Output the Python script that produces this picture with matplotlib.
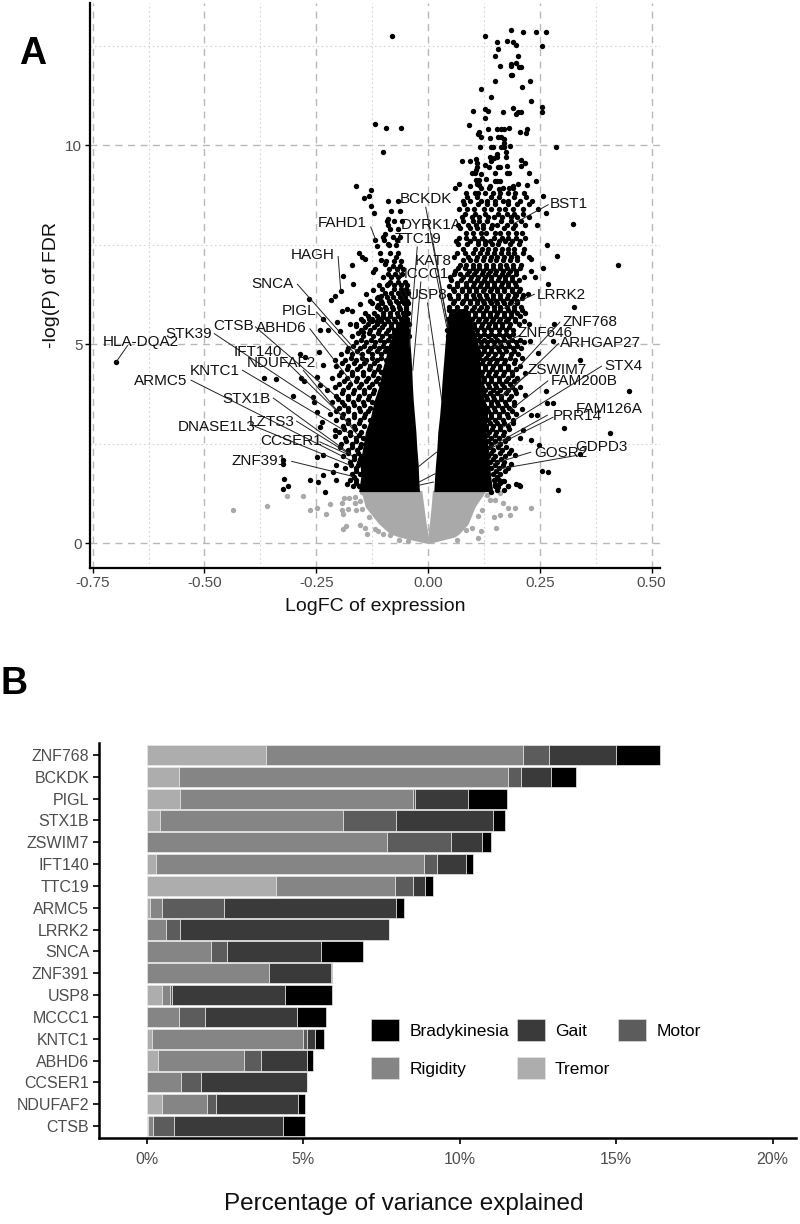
# -*- coding: utf-8 -*-
import matplotlib
matplotlib.use('Agg')
import matplotlib.pyplot as plt
from matplotlib.patches import Patch

plt.rcParams['font.family'] = ['Liberation Sans', 'DejaVu Sans']

# ---- panel A, points
top_x = [-.080,.127,.185,.213,.242,.265,.177,.154,.190,.197,.255,.156,.151,.201,.160,.186,.196,.186,.203,.208,.185,.189,.151,.229,.210,.119,.141,.231,.101,.128,.135,.167,.191,.254,.256,.196,.201,.209,.127,-.119,-.094,-.060,.091,.134,.154,.163,.169,.182,.221,.206,.219,.115,.113,.119,.139,.156,.163,.169,.171,.116,.145,.141,.164,.171,.183,.286,-.101,.174,.154,.174,.138,.154,.147,.142,.075,.095,.107,.109,.208,.218,.209,.128,.136,.157,.161,.177,.110,.107,.098,.105,.119,.149,.176,.182,.226,.130,.107,.115,.110,.149,.155,.160,.242,.069,.094,.114,.138,.201,.221,.191,.182,.158,.060]
top_y = [12.76,12.76,12.91,12.86,12.86,12.86,12.63,12.59,12.59,12.53,12.51,12.42,12.25,12.26,11.99,12.05,12.07,11.99,11.98,11.98,11.78,11.78,11.62,11.62,11.48,11.41,11.23,11.12,10.87,10.92,10.87,10.84,10.95,10.96,10.84,10.79,10.84,10.84,10.70,10.54,10.43,10.43,10.52,10.41,10.41,10.42,10.41,10.43,10.41,10.34,10.32,10.34,10.29,10.21,10.18,10.20,10.21,10.16,10.07,9.95,9.97,9.95,9.97,9.97,9.98,9.95,9.83,9.83,9.79,9.71,9.70,9.71,9.69,9.61,9.61,9.62,9.66,9.56,9.63,9.57,9.48,9.50,9.45,9.47,9.47,9.49,9.46,9.39,9.32,9.32,9.27,9.32,9.30,9.30,9.30,9.15,9.12,9.14,9.04,9.11,9.11,9.10,9.11,9.03,8.98,9.01,8.98,9.04,9.01,8.97,8.93,8.90,8.92]

left_x = [-.160,-.128,-.143,-.131,-.128,-.120,-.089,-.089,-.096,-.119,-.098,-.113,-.089,-.154,-.148,-.141,-.104,-.096,-.169,-.123,-.191,-.167,-.089,-.195,-.124,-.208,-.216,-.266,-.138,-.152,-.115,-.104,-.182,-.193,-.171,-.234,-.204,-.174,-.160,-.242,-.223,-.197,-.145,-.133,-.115,-.100,-.111,-.698,-.286,-.275,-.244,-.234,-.208,-.367,-.341,-.283,-.277,-.242,-.249,-.301,-.258,-.256,-.249,-.238,-.242,-.208,-.208,-.197,-.249,-.234,-.206,-.324,-.324,-.212,-.234,-.322,-.312,-.324,-.264,-.247,-.230,-.206,-.182]
left_y = [8.98,8.89,8.69,8.73,8.49,8.31,8.16,7.99,7.78,7.63,7.63,7.48,7.53,7.30,7.19,7.14,7.11,7.03,7.00,6.82,6.73,6.51,6.52,6.34,6.36,6.22,6.11,6.13,6.27,6.02,6.17,6.21,5.90,5.84,5.85,5.64,5.56,5.52,5.45,5.35,5.37,5.33,5.32,5.63,5.60,5.69,5.98,4.55,4.77,4.68,4.81,4.47,4.60,4.15,4.12,4.16,4.08,3.97,4.18,3.70,3.68,3.55,3.30,3.05,2.92,2.84,2.71,2.42,2.17,2.21,1.96,2.00,2.09,1.79,1.71,1.62,1.43,1.37,1.58,1.54,1.29,1.58,1.50]

right_x = [.324,.426,.288,.267,.258,.263,.243,.230,.258,.230,.240,.269,.327,.224,.195,.282,.280,.228,.247,.202,.340,.216,.450,.264,.217,.267,.280,.210,.230,.243,.304,.407,.213,.206,.230,.249,.340,.195,.186,.254,.268,.290,.169,.180,.204,.142,.154,.167,.150,.157,.180,.198,.206,.169]
right_y = [8.02,6.99,7.22,7.50,8.74,8.31,7.99,7.15,6.92,6.84,6.69,6.52,5.94,6.26,6.27,5.50,5.08,5.08,4.79,4.77,4.60,4.29,3.84,3.84,3.72,3.53,3.53,3.37,3.22,3.22,2.90,2.78,2.86,2.65,2.59,2.46,2.25,2.21,2.00,1.82,1.79,1.33,1.57,1.43,1.46,1.29,1.33,1.56,1.50,1.42,1.44,1.50,1.44,1.33]

# crowded parts, estimated row by row
right_rows_y = [8.8,8.6,8.4,8.2,8.0,7.8,7.6,7.4,7.2,7.0,6.85,6.7,6.55,6.4,6.25,6.1,5.95,5.8,5.65,5.5,5.35,5.2,5.05,4.9,4.75,4.6,4.45,4.3,4.15,4.0,3.85,3.7,3.55,3.4,3.25,3.1,2.95,2.8,2.65,2.5,2.35,2.2,2.05,1.9,1.75,1.6,1.45]
right_rows_x = [
    [.085,.105,.112,.128,.145,.160,.178,.195,.215],
    [.078,.095,.118,.133,.150,.168,.180,.205,.232],
    [.070,.088,.102,.125,.140,.158,.172,.190,.212,.245],
    [.075,.098,.115,.135,.148,.165,.185,.200,.225],
    [.068,.090,.108,.122,.143,.155,.176,.194,.218],
    [.085,.100,.118,.130,.150,.162,.180,.198,.210],
    [.062,.095,.112,.128,.138,.158,.172,.188,.205],
    [.078,.105,.120,.135,.150,.165,.178,.192,.215],
    [.058,.090,.110,.125,.140,.155,.170,.185,.200,.225],
    [.072,.085,.100,.115,.130,.145,.160,.175,.190,.208],
    [.060,.092,.108,.122,.138,.152,.168,.183,.198],
    [.050,.078,.096,.112,.128,.142,.158,.172,.188,.215],
    [.065,.085,.102,.118,.132,.148,.165,.180,.195],
    [.055,.075,.092,.108,.125,.140,.155,.170,.188,.205],
    [.048,.068,.085,.100,.115,.130,.146,.162,.178,.196,.212],
    [.058,.078,.094,.110,.124,.138,.152,.168,.185,.200],
    [.048,.066,.084,.102,.118,.132,.148,.162,.176,.192,.208],
    [.056,.074,.090,.106,.122,.138,.155,.170,.185,.200,.218],
    [.045,.065,.082,.098,.114,.130,.146,.160,.178,.195],
    [.050,.070,.086,.104,.120,.136,.150,.166,.184,.204,.225],
    [.042,.060,.078,.094,.110,.126,.142,.158,.174,.190],
    [.045,.068,.088,.102,.116,.134,.150,.168,.182],
    [.105,.118,.132,.148,.162,.180,.198,.215],
    [.110,.125,.140,.156,.172,.190,.208],
    [.104,.118,.134,.150,.165,.185],
    [.108,.122,.138,.155,.172,.195],
    [.112,.128,.145,.162,.180,.205],
    [.105,.120,.136,.152,.170,.188],
    [.110,.126,.142,.158,.178,.200],
    [.108,.118,.134,.150,.166,.184],
    [.112,.128,.145,.160,.178,.195],
    [.115,.130,.146,.164,.185],
    [.110,.124,.140,.155,.172,.192],
    [.118,.132,.148,.165,.182],
    [.115,.128,.142,.158,.176,.198],
    [.120,.134,.150,.168,.190],
    [.118,.130,.146,.162,.180],
    [.122,.136,.152,.170],
    [.125,.140,.158,.178],
    [.128,.142,.160],
    [.130,.146,.165,.185],
    [.135,.150,.172],
    [.138,.155,.170],
    [.140,.158,.178],
    [.145,.162],
    [.148,.158],
    [.150],
]
# second pass over the same region, between the rows above
right_rows2_y = [8.93,8.71,8.52,8.28,8.11,7.93,7.68,7.52,7.29,7.11,6.93,6.77,6.62,6.47,6.33,6.17,6.03,5.87,5.72,5.58,5.43,5.27,5.12,4.97,4.83,4.67,4.52,4.38,4.22,4.07,3.92,3.78,3.62,3.47,3.32,3.17,3.02,2.87,2.72,2.57,2.42,2.27,2.12,1.97,1.82,1.67,1.52]
right_rows2_x = [
    [.118,.137,.168,.190],
    [.088,.110,.141,.159,.192,.219],
    [.080,.113,.131,.151,.180,.200,.226],
    [.083,.106,.127,.157,.176,.192,.213],
    [.079,.100,.115,.133,.164,.186,.207],
    [.072,.093,.110,.124,.141,.171,.190],
    [.070,.086,.103,.120,.147,.165,.180,.197,.218],
    [.067,.088,.112,.128,.143,.157,.184,.204],
    [.066,.082,.100,.117,.133,.148,.163,.178,.193,.212],
    [.079,.093,.108,.122,.138,.153,.168,.183,.199],
    [.067,.083,.100,.115,.130,.145,.160,.176,.191,.206],
    [.058,.072,.087,.104,.120,.135,.150,.165,.180,.196],
    [.052,.073,.093,.110,.125,.140,.157,.172,.188,.203],
    [.047,.065,.084,.100,.116,.132,.147,.163,.179,.196],
    [.058,.076,.092,.108,.122,.138,.154,.170,.187,.204],
    [.050,.068,.086,.102,.117,.131,.145,.160,.176,.192,.210],
    [.056,.075,.093,.110,.125,.140,.155,.169,.184,.200],
    [.048,.065,.082,.098,.114,.130,.147,.162,.178,.192,.210],
    [.054,.073,.090,.106,.122,.138,.153,.169,.186,.205],
    [.060,.078,.095,.112,.128,.143,.158,.175,.194,.214],
    [.068,.086,.102,.118,.134,.150,.166,.182],
    [.095,.110,.125,.142,.159,.175,.191],
    [.112,.125,.140,.155,.171,.189,.206],
    [.118,.133,.148,.164,.181,.199],
    [.112,.126,.142,.158,.175,.193],
    [.115,.130,.146,.163,.183,.210],
    [.120,.136,.153,.171,.192],
    [.113,.128,.144,.161,.179,.198],
    [.118,.134,.150,.168,.189],
    [.113,.126,.142,.158,.175,.193],
    [.120,.136,.152,.169,.187,.206],
    [.123,.138,.155,.174,.196],
    [.118,.132,.147,.164,.182],
    [.125,.140,.157,.174,.193],
    [.122,.135,.150,.167,.187],
    [.127,.142,.159,.179],
    [.125,.138,.154,.171,.191],
    [.129,.144,.161,.181],
    [.132,.149,.168],
    [.135,.151,.172],
    [.138,.156,.175],
    [.142,.161,.181],
    [.146,.163],
    [.149,.168],
    [.152,.172],
    [.155],
    [.160],
]
left_rows_y = [8.6,8.35,8.1,7.9,7.7,7.5,7.3,7.1,6.9,6.7,6.5,6.3,6.1,5.95,5.8,5.65,5.5,5.35,5.2,5.05,4.9,4.75,4.6,4.45,4.3,4.15,4.0,3.85,3.7,3.55,3.4,3.25,3.1,2.95,2.8,2.65,2.5,2.35,2.2,2.05,1.9,1.75,1.6,1.45]
left_rows_x = [
    [-.090,-.066],
    [-.082,-.063],
    [-.092,-.075,-.058],
    [-.085,-.068],
    [-.100,-.078,-.062],
    [-.088,-.072],
    [-.108,-.084,-.066],
    [-.095,-.076,-.060],
    [-.118,-.088,-.070,-.056],
    [-.100,-.082,-.066],
    [-.110,-.092,-.075,-.060,-.046],
    [-.096,-.082,-.068,-.055,-.044],
    [-.130,-.105,-.088,-.072,-.058,-.048],
    [-.115,-.096,-.080,-.064,-.050],
    [-.140,-.120,-.100,-.086,-.070,-.056,-.045],
    [-.150,-.125,-.108,-.092,-.076,-.060,-.048],
    [-.160,-.135,-.115,-.098,-.082,-.066,-.052,-.042],
    [-.150,-.130,-.110,-.090,-.075,-.060,-.046],
    [-.170,-.145,-.122,-.102,-.085,-.068,-.052,-.042],
    [-.160,-.138,-.118,-.098,-.080,-.062,-.046],
    [-.180,-.152,-.130,-.110,-.092,-.074],
    [-.195,-.170,-.148,-.125,-.105,-.088],
    [-.185,-.160,-.138,-.115,-.095],
    [-.205,-.178,-.152,-.130,-.110],
    [-.195,-.170,-.145,-.120,-.105],
    [-.215,-.182,-.158,-.135,-.112],
    [-.200,-.175,-.150,-.125,-.108],
    [-.225,-.190,-.165,-.142,-.120],
    [-.205,-.180,-.155,-.132],
    [-.215,-.192,-.168,-.145,-.125],
    [-.200,-.178,-.155,-.130],
    [-.220,-.190,-.165,-.140],
    [-.205,-.178,-.152,-.130],
    [-.190,-.165,-.142],
    [-.200,-.175,-.150],
    [-.185,-.162,-.145],
    [-.195,-.170,-.150],
    [-.180,-.158],
    [-.190,-.165,-.150],
    [-.175,-.155],
    [-.185,-.160],
    [-.170,-.152],
    [-.175,-.160],
    [-.168,-.155],
]
left_rows2_y = [7.62,7.2,6.97,6.78,6.58,6.38,6.2,6.03,5.88,5.72,5.58,5.43,5.28,5.12,4.97,4.83,4.67,4.52,4.38,4.22,4.07,3.92,3.78,3.62,3.47,3.32,3.17,3.02,2.87,2.72,2.57,2.42,2.27,2.12,1.97,1.82,1.67,1.52]
left_rows2_x = [
    [-.070],
    [-.071],
    [-.078,-.062],
    [-.090,-.074,-.058],
    [-.084,-.068,-.052],
    [-.103,-.075,-.061,-.049],
    [-.112,-.092,-.078,-.063,-.052],
    [-.125,-.102,-.084,-.068,-.054,-.045],
    [-.108,-.094,-.078,-.063,-.050],
    [-.134,-.115,-.100,-.084,-.068,-.053],
    [-.145,-.125,-.106,-.090,-.074,-.058,-.046],
    [-.140,-.120,-.102,-.083,-.068,-.053],
    [-.157,-.133,-.112,-.094,-.077,-.060,-.047],
    [-.150,-.128,-.108,-.090,-.072,-.055],
    [-.168,-.142,-.120,-.101,-.083],
    [-.182,-.158,-.135,-.115,-.097],
    [-.172,-.148,-.126,-.106],
    [-.192,-.165,-.142,-.120],
    [-.182,-.158,-.133,-.112],
    [-.200,-.170,-.146,-.124],
    [-.188,-.162,-.138,-.116],
    [-.208,-.178,-.154,-.131],
    [-.192,-.168,-.144,-.124],
    [-.202,-.180,-.157,-.135],
    [-.188,-.166,-.143],
    [-.205,-.178,-.153,-.134],
    [-.192,-.166,-.142],
    [-.178,-.154],
    [-.188,-.163],
    [-.174,-.154],
    [-.183,-.160],
    [-.170,-.152],
    [-.178,-.157],
    [-.165,-.152],
    [-.173,-.156],
    [-.160],
    [-.166],
    [-.160],
]

# solid black core: too many points to tell apart, so kept as its outline
core_y = [1.3,1.7,2.0,2.4,2.8,3.2,3.6,4.0,4.3,4.7,5.0,5.5,5.9]
core_left_outer = [-.155,-.150,-.152,-.146,-.140,-.128,-.120,-.108,-.104,-.094,-.088,-.068,-.052]
core_left_inner = [-.019,-.021,-.022,-.025,-.027,-.030,-.033,-.035,-.036,-.038,-.040,-.043,-.046]
core_right_inner = [.013,.015,.017,.020,.022,.026,.029,.031,.033,.036,.038,.042,.048]
core_right_outer = [.145,.140,.138,.134,.130,.130,.126,.120,.118,.114,.112,.100,.085]

# same for the grey part under the FDR cut
ns_y = [0,.16,.24,.49,.91,1.33]
ns_left_outer = [-.003,-.065,-.085,-.110,-.140,-.150]
ns_left_inner = [0,0,0,-.004,-.009,-.014]
ns_right_inner = [0,0,0,.003,.007,.010]
ns_right_outer = [.003,.060,.070,.090,.105,.130]

ns_x = [-.437,-.360,-.316,-.280,-.264,-.248,-.227,-.219,-.193,-.187,-.176,-.163,-.147,-.193,-.189,-.178,-.160,-.163,-.152,-.147,-.184,-.189,-.152,-.141,-.137,-.133,-.119,-.111,-.100,-.085,-.065,-.044,.113,.119,.098,.085,.064,.152,.148,.161,.113,.120,.139,.150,.167,.180,.195,.183,.230,.131,.161,.101]
ns_y_pts = [.85,.94,1.19,1.19,.85,.89,.74,.98,1.02,1.15,1.15,1.16,1.29,.83,.73,.87,.85,1.02,1.06,.87,.43,.37,.47,.39,.24,.66,.37,.31,.24,.20,.09,.05,.14,.30,.39,.33,.09,.39,.66,.70,.68,.83,1.08,1.08,1.01,.89,.89,.70,.89,1.21,1.27,1.00]

gene_names = ['HLA-DQA2','FAHD1','HAGH','SNCA','PIGL','ABHD6','CTSB','STK39','IFT140','NDUFAF2','KNTC1','ARMC5','STX1B','LZTS3','DNASE1L3','CCSER1','ZNF391','BCKDK','DYRK1A','TTC19','KAT8','MCCC1','USP8','BST1','LRRK2','ZNF768','ZNF646','ARHGAP27','ZSWIM7','FAM200B','STX4','FAM126A','PRR14','GOSR2','GDPD3']
gene_x = [-.642,-.192,-.258,-.348,-.289,-.327,-.434,-.536,-.380,-.327,-.478,-.597,-.406,-.350,-.473,-.307,-.377,-.005,.008,-.023,.012,-.014,-.001,.315,.299,.362,.263,.386,.289,.349,.437,.405,.333,.298,.388]
gene_y = [5.06,8.06,7.25,6.52,5.85,5.41,5.46,5.25,4.81,4.53,4.33,4.08,3.63,3.05,2.92,2.56,2.06,8.66,7.99,7.65,7.09,6.78,6.23,8.52,6.23,5.56,5.28,5.04,4.35,4.08,4.45,3.37,3.20,2.27,2.42]
seg_x0 = [-.672,-.128,-.201,-.292,-.249,-.264,-.386,-.478,-.327,-.279,-.415,-.530,-.346,-.294,-.387,-.242,-.305,-.005,.008,-.024,.016,-.016,-.001,.269,.238,.295,.206,.292,.224,.268,.388,.267,.280,.230,.333]
seg_y0 = [4.97,7.95,7.21,6.51,5.81,5.39,5.44,5.27,4.68,4.35,4.35,4.10,3.65,3.07,2.94,2.55,2.06,8.45,7.78,7.45,6.90,6.57,6.04,8.51,6.26,5.56,5.23,5.02,4.26,4.08,4.45,3.22,3.17,2.29,2.21]
seg_x1 = [-.698,-.117,-.195,-.122,-.167,-.171,-.208,-.219,-.167,-.160,-.156,-.174,-.174,-.171,-.174,-.182,-.167,.045,.045,-.042,.042,-.034,.031,.191,.169,.176,.146,.176,.161,.183,.168,.139,.139,.146,.150]
seg_y1 = [4.55,7.63,6.34,4.35,4.81,4.05,3.72,3.34,2.92,2.76,2.63,2.09,2.25,2.21,1.96,2.25,1.68,5.44,5.44,4.93,5.44,4.35,3.59,8.03,5.90,4.10,4.93,3.76,3.68,3.34,2.92,2.42,2.38,2.00,1.85]
# short leaders crossing the gap round zero
gap_x0 = [-.022,-.020,-.020]
gap_y0 = [1.92,1.54,1.46]
gap_x1 = [.019,.016,.012]
gap_y1 = [2.29,1.75,1.54]

# ---- panel B
genes = ['ZNF768','BCKDK','PIGL','STX1B','ZSWIM7','IFT140','TTC19','ARMC5','LRRK2','SNCA','ZNF391','USP8','MCCC1','KNTC1','ABHD6','CCSER1','NDUFAF2','CTSB']
tremor = [3.83,1.05,1.08,.44,0,.29,4.15,.12,0,0,0,.50,0,.17,.38,0,.49,.05]
rigidity = [8.21,10.50,7.44,5.85,7.69,8.56,3.80,.38,.61,2.07,3.91,.26,1.03,4.84,2.73,1.11,1.44,.16]
motor = [.81,.42,.05,1.68,2.03,.44,.57,1.98,.47,.49,0,.04,.83,.10,.55,.63,.28,.67]
gait = [2.15,.95,1.69,3.11,1.00,.92,.38,5.49,6.67,3.02,1.97,3.61,2.96,.26,1.47,3.39,2.64,3.47]
brady = [1.40,.80,1.26,.38,.28,.23,.24,.27,0,1.34,.04,1.51,.90,.31,.19,0,.22,.72]
symptom_names = ['Tremor','Rigidity','Motor','Gait','Bradykinesia']
symptom_colors = ['#adadad','#858585','#5c5c5c','#3a3a3a','#000000']

W, H = 800.0, 1224.0
DOT = 15
fig = plt.figure(figsize=(8, 12.24), dpi=100)

# panel A
ax = fig.add_axes([90/W, 1-568/H, 570/W, 565/H])
ax.set_xlim(-.756, .519)
ax.set_ylim(-.62, 13.58)
ax.set_xticks([-.75,-.5,-.25,0,.25,.5])
ax.set_xticklabels(['-0.75','-0.50','-0.25','0.00','0.25','0.50'], fontsize=11, color='#4d4d4d')
ax.set_yticks([0,5,10])
ax.set_yticklabels(['0','5','10'], fontsize=11, color='#4d4d4d')
ax.set_xticks([-.625,-.375,-.125,.125,.375], minor=True)
ax.set_yticks([2.5,7.5,12.5], minor=True)
ax.grid(True, which='major', color='#b8b8b8', ls=(0, (5, 4)), lw=1)
ax.grid(True, which='minor', color='#d4d4d4', ls=(0, (1.5, 2.5)), lw=.8)
ax.tick_params(which='minor', length=0)
ax.tick_params(which='major', length=3.5, width=1, pad=2)
ax.set_axisbelow(True)
for s in ['top','right']:
    ax.spines[s].set_visible(False)
for s in ['left','bottom']:
    ax.spines[s].set_linewidth(1.6)

grey = '#a9a9a9'
ax.fill_betweenx(ns_y, ns_left_outer, ns_left_inner, color=grey, lw=0, zorder=2)
ax.fill_betweenx(ns_y, ns_right_inner, ns_right_outer, color=grey, lw=0, zorder=2)
ax.scatter(ns_x, ns_y_pts, s=DOT, c=grey, lw=0, zorder=2)

ax.fill_betweenx(core_y, core_left_outer, core_left_inner, color='k', lw=0, zorder=3)
ax.fill_betweenx(core_y, core_right_inner, core_right_outer, color='k', lw=0, zorder=3)
ax.scatter(top_x, top_y, s=DOT, c='k', lw=0, zorder=3)
ax.scatter(left_x, left_y, s=DOT, c='k', lw=0, zorder=3)
ax.scatter(right_x, right_y, s=DOT, c='k', lw=0, zorder=3)
for rows_y, rows_x in [(right_rows_y, right_rows_x), (right_rows2_y, right_rows2_x),
                       (left_rows_y, left_rows_x), (left_rows2_y, left_rows2_x)]:
    for y, xs in zip(rows_y, rows_x):
        ax.scatter(xs, [y]*len(xs), s=DOT, c='k', lw=0, zorder=3)

for i in range(len(gene_names)):
    ax.plot([seg_x0[i], seg_x1[i]], [seg_y0[i], seg_y1[i]], color='#222222', lw=.7, zorder=4)
    ax.text(gene_x[i], gene_y[i], gene_names[i], fontsize=11, ha='center', va='center', color='#111111', zorder=5)
for i in range(len(gap_x0)):
    ax.plot([gap_x0[i], gap_x1[i]], [gap_y0[i], gap_y1[i]], color='#222222', lw=.7, zorder=4)

ax.set_xlabel('LogFC of expression', fontsize=14, color='#111111', labelpad=6)
ax.set_ylabel('-log(P) of FDR', fontsize=14, color='#111111', labelpad=4)

# panel B
bx = fig.add_axes([99/W, 1-1138/H, 697/W, 395/H])
lefts = [0]*len(genes)
for vals, name, col in zip([tremor, rigidity, motor, gait, brady], symptom_names, symptom_colors):
    bx.barh(genes, vals, left=lefts, height=.93, color=col, edgecolor='#e8e8e8', lw=.5)
    lefts = [a + b for a, b in zip(lefts, vals)]
bx.set_xlim(-1.52, 20.75)
bx.set_ylim(17.55, -.55)
bx.set_xticks([0,5,10,15,20])
bx.set_xticklabels(['0%','5%','10%','15%','20%'], fontsize=11.5, color='#4d4d4d')
bx.tick_params(axis='y', labelsize=11.5, labelcolor='#4d4d4d', length=4, width=1.2, pad=3)
bx.tick_params(axis='x', length=4, width=1.2, pad=6)
for s in ['top','right']:
    bx.spines[s].set_visible(False)
for s in ['left','bottom']:
    bx.spines[s].set_linewidth(1.8)
bx.set_xlabel('Percentage of variance explained', fontsize=17.5, color='#111111')
bx.xaxis.set_label_coords((404-99)/697.0, -(1193-1138)/395.0)

# legend filled column by column, so give it in that order
order = [4, 1, 3, 0, 2]
handles = [Patch(facecolor=symptom_colors[i], edgecolor='#e8e8e8', lw=.4, label=symptom_names[i]) for i in order]
fig.legend(handles=handles, loc='center', bbox_to_anchor=(536/W, 1-1049/H), ncol=3, frameon=False,
           fontsize=12.5, handlelength=1.6, handleheight=1.6, handletextpad=.6, columnspacing=.45, labelspacing=.9)

fig.text(33/W, 1-54/H, 'A', fontsize=27, fontweight='bold', ha='center', va='center')
fig.text(14/W, 1-684/H, 'B', fontsize=27, fontweight='bold', ha='center', va='center')

fig.savefig('out.png', dpi=100)
